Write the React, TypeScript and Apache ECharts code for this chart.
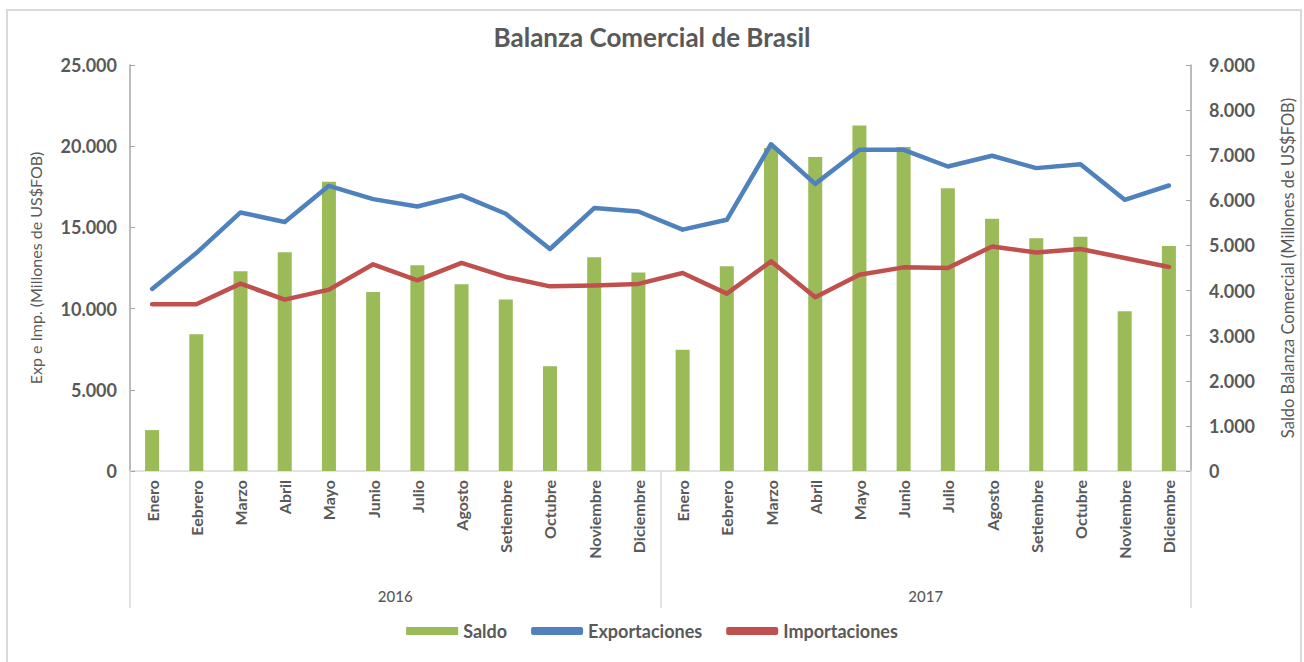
import React, { useEffect, useRef } from "react";
import * as echarts from "echarts";

const months = ["Enero", "Eebrero", "Marzo", "Abril", "Mayo", "Junio", "Julio", "Agosto", "Setiembre", "Octubre", "Noviembre", "Diciembre"];
const categories = [...months, ...months];
const years = ["2016", "2017"];

const saldo = [907, 3030, 4430, 4850, 6410, 3970, 4560, 4140, 3800, 2320, 4740, 4400,
  2690, 4540, 7160, 6960, 7660, 7180, 6270, 5590, 5160, 5190, 3540, 4990];
const exportaciones = [11210, 13420, 15920, 15330, 17560, 16740, 16290, 16970, 15840, 13670, 16190, 15980,
  14860, 15470, 20120, 17680, 19780, 19780, 18750, 19410, 18650, 18890, 16700, 17580];
const importaciones = [10270, 10270, 11540, 10550, 11170, 12730, 11740, 12810, 11950, 11370, 11430, 11520,
  12190, 10920, 12910, 10700, 12090, 12540, 12500, 13830, 13460, 13670, 13120, 12560];

const leftTicks = { min: 0, max: 25000, interval: 5000 };
const rightTicks = { min: 0, max: 9000, interval: 1000 };

const FONT = "Lato, 'Open Sans', sans-serif";
const TXT = "#595959";
const fmt = (v: number) => String(v).replace(/\B(?=(\d{3})+(?!\d))/g, ".");

export default function App() {
  const ref = useRef<HTMLDivElement>(null);
  useEffect(() => {
    if (!ref.current) return;
    const chart = echarts.init(ref.current, undefined, { renderer: "svg" });
    chart.setOption({
      animation: false,
      backgroundColor: "#ffffff",
      textStyle: { fontFamily: FONT },
      title: {
        text: "Balanza Comercial de Brasil",
        left: "center",
        top: 19,
        textStyle: { fontFamily: FONT, fontSize: 26, fontWeight: "bold", color: TXT },
      },
      graphic: [
        { type: "rect", shape: { x: 7, y: 10, width: 1294, height: 660 }, style: { fill: "none", stroke: "#d9d9d9", lineWidth: 2 }, silent: true },
      ],
      legend: {
        bottom: 17,
        left: "center",
        itemWidth: 52,
        itemHeight: 8,
        itemGap: 24,
        textStyle: { fontFamily: FONT, fontSize: 18, fontWeight: "bold", color: TXT },
        data: [
          { name: "Saldo", icon: "rect" },
          { name: "Exportaciones", icon: "roundRect" },
          { name: "Importaciones", icon: "roundRect" },
        ],
      },
      grid: { left: 130, right: 113, top: 65, bottom: 191, containLabel: false },
      xAxis: [
        {
          type: "category",
          data: categories,
          position: "bottom",
          axisLine: { show: true, lineStyle: { color: "#d9d9d9", width: 1.5 } },
          axisTick: { show: false },
          axisLabel: { rotate: 90, margin: 9, fontFamily: FONT, fontSize: 16, fontWeight: "bold", color: TXT, interval: 0 },
        },
        {
          type: "category",
          data: years,
          position: "bottom",
          axisLine: { show: false },
          axisTick: { show: true, length: 137, lineStyle: { color: "#d9d9d9", width: 1.5 } },
          axisLabel: { margin: 117, fontFamily: FONT, fontSize: 15, fontWeight: 500, color: TXT },
        },
      ],
      yAxis: [
        {
          type: "value",
          ...leftTicks,
          position: "left",
          name: "Exp e Imp. (Millones de US$FOB)",
          nameLocation: "middle",
          nameGap: 87,
          nameTextStyle: { fontFamily: FONT, fontSize: 16, color: TXT },
          splitLine: { show: false },
          axisLine: { show: true, lineStyle: { color: "#a6a6a6", width: 1.5 } },
          axisTick: { show: true, inside: true, length: 5, lineStyle: { color: "#a6a6a6" } },
          axisLabel: { margin: 13, fontFamily: FONT, fontSize: 18, fontWeight: "bold", color: TXT, formatter: (v: number) => fmt(v) },
        },
        {
          type: "value",
          ...rightTicks,
          position: "right",
          name: "Saldo Balanza Comercial (Millones de US$FOB)",
          nameLocation: "middle",
          nameGap: 88,
          nameRotate: 90,
          nameTextStyle: { fontFamily: FONT, fontSize: 16.5, color: TXT },
          splitLine: { show: false },
          axisLine: { show: true, lineStyle: { color: "#a6a6a6", width: 1.5 } },
          axisTick: { show: true, inside: true, length: 5, lineStyle: { color: "#a6a6a6" } },
          axisLabel: { margin: 18, fontFamily: FONT, fontSize: 18, fontWeight: "bold", color: TXT, formatter: (v: number) => fmt(v) },
        },
      ],
      series: [
        {
          name: "Saldo",
          type: "bar",
          xAxisIndex: 0,
          yAxisIndex: 1,
          data: saldo,
          barWidth: 14,
          itemStyle: { color: "#9BBB59" },
        },
        {
          name: "Exportaciones",
          type: "line",
          xAxisIndex: 0,
          yAxisIndex: 0,
          data: exportaciones,
          symbol: "none",
          lineStyle: { color: "#4F81BD", width: 4.5, cap: "round", join: "round" },
          itemStyle: { color: "#4F81BD" },
        },
        {
          name: "Importaciones",
          type: "line",
          xAxisIndex: 0,
          yAxisIndex: 0,
          data: importaciones,
          symbol: "none",
          lineStyle: { color: "#C0504D", width: 4.5, cap: "round", join: "round" },
          itemStyle: { color: "#C0504D" },
        },
      ],
    });
    return () => chart.dispose();
  }, []);
  return <div ref={ref} style={{ position: "absolute", left: 0, top: 0, width: 1304, height: 662 }} />;
}
